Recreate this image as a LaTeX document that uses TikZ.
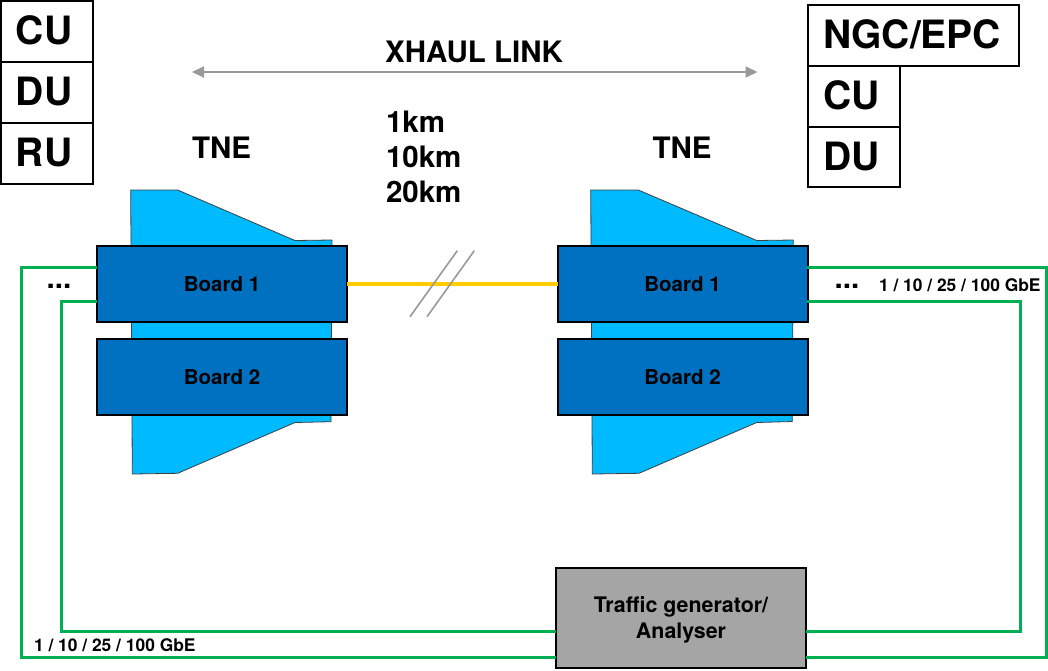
\documentclass[tikz,border=0pt]{standalone}
\usepackage{fontspec}
\setmainfont{TeX Gyre Heros}
\usetikzlibrary{arrows.meta}
\definecolor{boardblue}{HTML}{0070C0}
\definecolor{chassis}{HTML}{00BAFF}
\definecolor{linkgreen}{HTML}{00B050}
\definecolor{linkyellow}{HTML}{FFCC00}
\definecolor{genegray}{HTML}{A5A5A5}
\definecolor{arrowgray}{HTML}{999999}
\tikzset{
  x=1pt,y=-1pt,
  every node/.style={font=\bfseries,text=black,inner sep=0pt,outer sep=0pt},
  tag/.style={draw=black,line width=2pt,fill=white,font=\fontsize{39}{39}\bfseries\selectfont,minimum height=60.6pt,anchor=north west,inner xsep=15pt,text depth=2pt,align=left},
  board/.style={draw=black,line width=2pt,fill=boardblue,minimum width=250pt,minimum height=76pt,font=\fontsize{20.5}{20.5}\bfseries\selectfont},
  chassisshape/.style={draw=black!75,line width=0.8pt,fill=chassis},
  fibre/.style={linkgreen,line width=3pt,line join=miter},
  label/.style={font=\fontsize{29.5}{33}\bfseries\selectfont},
  small/.style={font=\fontsize{17.4}{17.4}\bfseries\selectfont},
  slash/.style={arrowgray,line width=1.6pt},
}
\begin{document}
\begin{tikzpicture}
\useasboundingbox (0,0) rectangle (1048,670);
% chassis
\filldraw[chassisshape] (130.7,190) -- (177.7,190) -- (295,240.5) -- (332,240) -- (331,421.7) -- (295,422.5) -- (177.7,473.3) -- (132.3,474) -- cycle;
\filldraw[chassisshape] (590.7,190) -- (638.3,190) -- (756.7,240.5) -- (793.3,240) -- (792.3,421.5) -- (756.7,422.5) -- (639,473.3) -- (592.3,474) -- cycle;
% boards
\node[board] (l1) at (222,284) {Board 1};
\node[board] (l2) at (222,377) {Board 2};
\node[board] (r1) at (682.5,284) {Board 1};
\node[board] (r2) at (682.5,377) {Board 2};
% generator
\node[draw=black,line width=2pt,fill=genegray,minimum width=250pt,minimum height=100pt,align=center,font=\fontsize{21.4}{26}\bfseries\selectfont] (gen) at (681,618) {\rule{0pt}{20pt}Traffic generator/\\Analyser};
% named connector ends
\coordinate (lo) at (97,267);
\coordinate (li) at (97,301);
\coordinate (ro) at (807,267);
\coordinate (ri) at (807,301);
\coordinate (go) at (681,657.2);
\coordinate (gi) at (681,631.7);
\draw[fibre] (lo) -- (21,267) -- (21,657.2) -- (gen.west |- go);
\draw[fibre] (li) -- (61,301) -- (61,631.7) -- (gen.west |- gi);
\draw[fibre] (ro) -- (1046,267) -- (1046,657.2) -- (gen.east |- go);
\draw[fibre] (ri) -- (1020.3,301) -- (1020.3,631.7) -- (gen.east |- gi);
% link
\draw[linkyellow,line width=4.5pt] (l1.east) -- (r1.west);
\coordinate (s1a) at (410,316.7); \coordinate (s1b) at (457.3,250.7);
\coordinate (s2a) at (427,316.7); \coordinate (s2b) at (474.3,250.7);
\draw[slash] (s1a) -- (s1b);
\draw[slash] (s2a) -- (s2b);
% xhaul arrow
\coordinate (xa) at (192,72); \coordinate (xb) at (757.5,72);
\draw[arrowgray,line width=1.8pt,{Triangle[length=12pt,width=11pt]}-{Triangle[length=12pt,width=11pt]}] (xa) -- (xb);
\node[label,anchor=base] (xh) at (474,62) {XHAUL LINK};
% left tags
\node[tag,text width=62pt] (t1) at (1,1) {CU};
\node[tag,text width=62pt] (t2) at (1,62.3) {DU};
\node[tag,text width=62pt] (t3) at (1,123) {RU};
% right tags
\node[tag,text width=181pt] (t4) at (808,5) {NGC/EPC};
\node[tag,text width=62pt] (t5) at (808,66) {CU};
\node[tag,text width=62pt] (t6) at (808,126.7) {DU};
% labels
\node[label,anchor=base] (tn1) at (221.5,158) {TNE};
\node[label,anchor=base] (tn2) at (682,158) {TNE};
\node[label,anchor=base west] (k1) at (386,132) {1km};
\node[label,anchor=base west] (k2) at (386,167) {10km};
\node[label,anchor=base west] (k3) at (386,202) {20km};
\node[label,anchor=base] (d1) at (59,288) {...};
\node[label,anchor=base] (d2) at (847,288) {...};
\node[small,anchor=base west] (g1) at (879,291) {1 / 10 / 25 / 100 GbE};
\node[small,anchor=base west] (g2) at (34,651.7) {1 / 10 / 25 / 100 GbE};
\end{tikzpicture}
\end{document}
